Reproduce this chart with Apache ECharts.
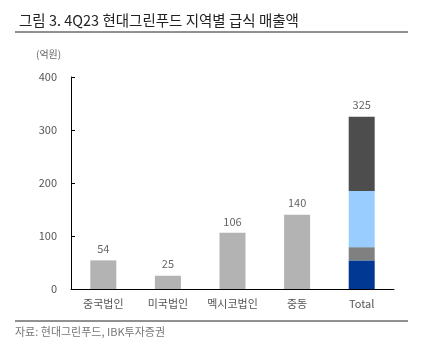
<!DOCTYPE html>
<html>
<head>
<meta charset="utf-8">
<script src="https://cdn.jsdelivr.net/npm/echarts@6/dist/echarts.min.js"></script>
<style>
  html, body { margin: 0; padding: 0; background: #fff; }
  #myChart { width: 423px; height: 353px; }
</style>
</head>
<body>
<div id="myChart"></div>
<script>
  // 지역별 급식 매출액 (억원)
  var categories = ['중국법인', '미국법인', '멕시코법인', '중동', 'Total'];
  var regionValues = [54, 25, 106, 140];
  var stackColors = ['#003893', '#808080', '#99ccff', '#4d4d4d'];
  var yTicks = [0, 100, 200, 300, 400];

  var total = regionValues.reduce(function (a, b) { return a + b; }, 0);
  var font = '"Noto Sans CJK KR", sans-serif';

  var series = [{
    name: 'region',
    type: 'bar',
    stack: 'a',
    barWidth: 26,
    data: regionValues.concat(['-']),
    itemStyle: { color: '#b3b3b3' },
    label: { show: true, position: 'top', color: '#666', fontSize: 11, fontFamily: font, distance: 6 }
  }];
  for (var i = 0; i < regionValues.length; i++) {
    var d = ['-', '-', '-', '-', regionValues[i]];
    var s = {
      name: categories[i],
      type: 'bar',
      stack: 'a',
      barWidth: 26,
      data: d,
      itemStyle: { color: stackColors[i] }
    };
    if (i === regionValues.length - 1) {
      s.label = {
        show: true, position: 'top', color: '#666', fontSize: 11, fontFamily: font, distance: 6,
        formatter: function () { return total; }
      };
    }
    series.push(s);
  }

  var myChart = echarts.init(document.getElementById('myChart'));
  myChart.setOption({
    animation: false,
    title: {
      text: '그림 3. 4Q23 현대그린푸드 지역별 급식 매출액',
      left: 14,
      top: 8,
      textStyle: { fontSize: 14.5, fontWeight: 'normal', color: '#222', fontFamily: font }
    },
    graphic: [
      { type: 'line', shape: { x1: 15, y1: 32, x2: 408, y2: 32 }, style: { stroke: '#222', lineWidth: 1 } },
      { type: 'line', shape: { x1: 15, y1: 321, x2: 408, y2: 321 }, style: { stroke: '#222', lineWidth: 1 } },
      { type: 'text', left: 36, top: 49, style: { text: '(억원)', fontSize: 10, fill: '#666', fontFamily: font } },
      { type: 'text', left: 15, top: 326, style: { text: '자료: 현대그린푸드, IBK투자증권', fontSize: 11, fill: '#777', fontFamily: font } }
    ],
    grid: { left: 71, right: 29, top: 77, bottom: 64 },
    xAxis: {
      type: 'category',
      data: categories,
      axisLine: { lineStyle: { color: '#000', width: 1 } },
      axisTick: { inside: true, length: 4, lineStyle: { color: '#000' } },
      axisLabel: { interval: 0, color: '#555', fontSize: 11, fontFamily: font, margin: 9 }
    },
    yAxis: {
      type: 'value',
      min: yTicks[0],
      max: yTicks[yTicks.length - 1],
      interval: 100,
      splitLine: { show: false },
      axisLine: { show: true, lineStyle: { color: '#000', width: 1 } },
      axisTick: { show: true, inside: true, length: 4, lineStyle: { color: '#000' } },
      axisLabel: { color: '#555', fontSize: 11, fontFamily: font, margin: 14 }
    },
    series: series
  });
</script>
</body>
</html>
